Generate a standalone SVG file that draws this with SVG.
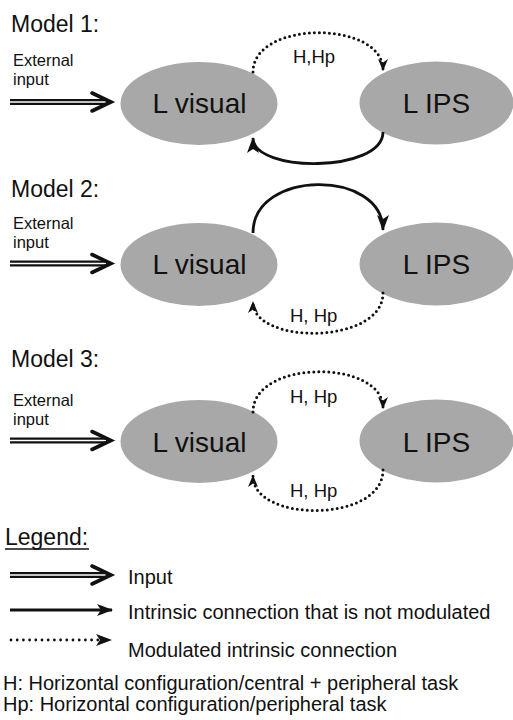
<svg xmlns="http://www.w3.org/2000/svg" width="513" height="720" viewBox="0 0 513 720">
  <style>
    text { font-family: "Liberation Sans", Arial, sans-serif; fill: #111; }
    .title { font-size: 23px; }
    .ext { font-size: 16.5px; }
    .node-shape { fill: #a8a8a8; }
    .node-label { font-size: 28px; text-anchor: middle; }
    .lbl { font-size: 18.5px; }
    .legend { font-size: 20px; }
    .solid { fill: none; stroke: #111; stroke-width: 2.8; }
    .dotted { fill: none; stroke: #111; stroke-width: 3; stroke-linecap: round; stroke-dasharray: 0 5; }
    .dbl-outer { stroke: #111; stroke-width: 6; }
    .dbl-inner { stroke: #fff; stroke-width: 1.6; }
    .chev { fill: none; stroke: #111; stroke-width: 3.6; stroke-linejoin: miter; stroke-linecap: round; }
  </style>
  <defs>
    <marker id="ah" viewBox="0 0 12 10" refX="11" refY="5" markerWidth="12" markerHeight="10" orient="auto" markerUnits="userSpaceOnUse">
      <path d="M0,0 L12,5 L0,10 L3.5,5 z" fill="#111"/>
    </marker>
    <marker id="ahL" viewBox="0 0 16 12" refX="15" refY="6" markerWidth="16" markerHeight="12" orient="auto" markerUnits="userSpaceOnUse">
      <path d="M0,0 L16,6 L0,12 L4,6 z" fill="#111"/>
    </marker>
  </defs>

  <!-- Model 1 -->
  <text class="title" x="11" y="32">Model 1:</text>
  <g id="m1-ext">
    <text class="ext" x="13" y="66">External</text>
    <text class="ext" x="13" y="85">input</text>
  </g>
  <g id="m1-visual">
    <ellipse class="node-shape" cx="199" cy="103.5" rx="78.5" ry="41.5"/>
    <text class="node-label" x="199.5" y="113">L visual</text>
  </g>
  <g id="m1-ips">
    <ellipse class="node-shape" cx="436.5" cy="103" rx="77" ry="41.5"/>
    <text class="node-label" x="436.5" y="113">L IPS</text>
  </g>

  <!-- Model 2 -->
  <text class="title" x="11" y="197">Model 2:</text>
  <g id="m2-ext">
    <text class="ext" x="13" y="229">External</text>
    <text class="ext" x="13" y="248">input</text>
  </g>
  <g id="m2-visual">
    <ellipse class="node-shape" cx="199" cy="264.5" rx="78.5" ry="41.5"/>
    <text class="node-label" x="199.5" y="274">L visual</text>
  </g>
  <g id="m2-ips">
    <ellipse class="node-shape" cx="436.5" cy="264" rx="77" ry="41.5"/>
    <text class="node-label" x="436.5" y="274">L IPS</text>
  </g>

  <!-- Model 3 -->
  <text class="title" x="11" y="367">Model 3:</text>
  <g id="m3-ext">
    <text class="ext" x="13" y="406">External</text>
    <text class="ext" x="13" y="425">input</text>
  </g>
  <g id="m3-visual">
    <ellipse class="node-shape" cx="199" cy="441.5" rx="78.5" ry="41.5"/>
    <text class="node-label" x="199.5" y="451.5">L visual</text>
  </g>
  <g id="m3-ips">
    <ellipse class="node-shape" cx="436.5" cy="441" rx="77" ry="41.5"/>
    <text class="node-label" x="436.5" y="451.5">L IPS</text>
  </g>

  <!-- Connectors -->
  <g id="connectors">
    <!-- external inputs (double line + open chevron) -->
    <g id="in1">
      <line class="dbl-outer" x1="10" y1="102" x2="108" y2="102"/>
      <line class="dbl-inner" x1="10" y1="102" x2="106" y2="102"/>
      <polyline class="chev" points="92,93 111,102 92,111"/>
    </g>
    <g id="in2">
      <line class="dbl-outer" x1="10" y1="263.5" x2="108" y2="263.5"/>
      <line class="dbl-inner" x1="10" y1="263.5" x2="106" y2="263.5"/>
      <polyline class="chev" points="92,254.5 111,263.5 92,272.5"/>
    </g>
    <g id="in3">
      <line class="dbl-outer" x1="10" y1="440.5" x2="108" y2="440.5"/>
      <line class="dbl-inner" x1="10" y1="440.5" x2="106" y2="440.5"/>
      <polyline class="chev" points="92,431.5 111,440.5 92,449.5"/>
    </g>

    <!-- Model 1 -->
    <path class="dotted" d="M253,72 C253,20 383,20 383,70" marker-end="url(#ah)"/>
    <path class="solid" d="M383,132 C383,173 253,173 253,138" marker-end="url(#ahL)"/>
    <!-- Model 2 -->
    <path class="solid" d="M253,233 C253,169 383,169 383,230" marker-end="url(#ahL)"/>
    <path class="dotted" d="M383,293 C383,345 253,345 253,302" marker-end="url(#ah)"/>
    <!-- Model 3 -->
    <path class="dotted" d="M253,412 C253,359 383,359 383,408" marker-end="url(#ah)"/>
    <path class="dotted" d="M383,470 C383,523 253,523 253,476" marker-end="url(#ah)"/>

    <text class="lbl" x="293" y="63">H,Hp</text>
    <text class="lbl" x="290" y="322">H, Hp</text>
    <text class="lbl" x="290" y="403">H, Hp</text>
    <text class="lbl" x="290" y="497">H, Hp</text>
  </g>

  <!-- Legend -->
  <g id="legend">
    <text class="title" x="5" y="545">Legend:</text>
    <line x1="5" y1="549" x2="89" y2="549" stroke="#111" stroke-width="1.5"/>

    <line class="dbl-outer" x1="10" y1="575" x2="108" y2="575"/>
    <line class="dbl-inner" x1="10" y1="575" x2="106" y2="575"/>
    <polyline class="chev" points="92,566 111,575 92,584"/>
    <text class="legend" x="128" y="584">Input</text>

    <line class="solid" x1="10" y1="610" x2="112" y2="610" marker-end="url(#ahL)"/>
    <text class="legend" x="128" y="619">Intrinsic connection that is not modulated</text>

    <line x1="11" y1="640" x2="98" y2="640" stroke="#111" stroke-width="2.8" stroke-linecap="round" stroke-dasharray="0 6.2"/>
    <path d="M96,634 L112,640 L96,646 L100,640 z" fill="#111"/>
    <text class="legend" x="128" y="657">Modulated intrinsic connection</text>

    <text class="legend" x="3" y="690">H: Horizontal configuration/central + peripheral task</text>
    <text class="legend" x="3" y="711">Hp: Horizontal configuration/peripheral task</text>
  </g>
</svg>
